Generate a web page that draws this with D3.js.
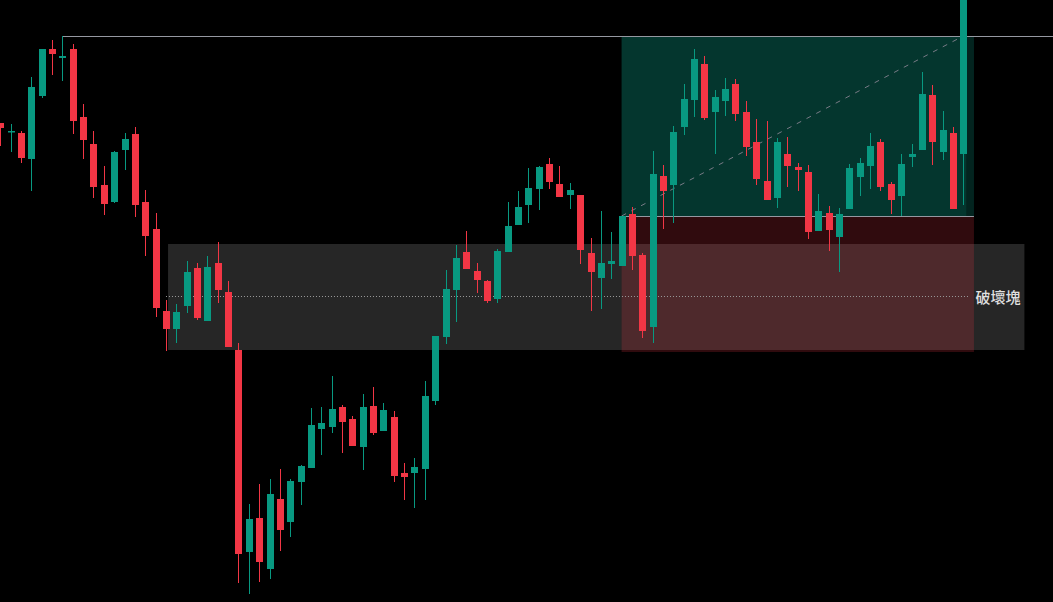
<!DOCTYPE html>
<html>
<head>
<meta charset="utf-8">
<script src="https://cdn.jsdelivr.net/npm/d3@7/dist/d3.min.js"></script>
<style>
  html, body { margin: 0; padding: 0; background: #000; overflow: hidden; }
  svg { display: block; }
</style>
</head>
<body>
<svg id="chart" width="1053" height="602"></svg>
<script>
// ---- data ----
const openP = [2477,2468,2467,2441,2504,2551,2542,2551,2483,2456,
  2415,2398,2450,2466,2398,2371,2289,2271,2294,2332,
  2279,2337,2308,2250,2048,2082,2031,2101,2078,2118,
  2132,2171,2173,2193,2181,2153,2194,2169,2183,2127,
  2127,2131,2199,2263,2310,2348,2329,2319,2301,2348,
  2375,2395,2411,2436,2416,2405,2405,2347,2322,2336,
  2334,2386,2345,2273,2424,2415,2473,2500,2536,2488,
  2499,2516,2488,2458,2419,2402,2446,2433,2428,2369,
  2387,2363,2391,2423,2434,2458,2416,2404,2443,2450,
  2505,2448,2467,2446];
const highP = [2477,2476,2469,2523,2551,2560,2564,2556,2496,2469,
  2434,2449,2467,2473,2410,2387,2300,2296,2339,2337,
  2344,2358,2319,2257,2096,2116,2121,2131,2121,2135,
  2192,2193,2224,2195,2184,2206,2213,2197,2189,2137,
  2142,2219,2264,2330,2355,2369,2337,2320,2351,2398,
  2409,2432,2434,2442,2434,2417,2405,2362,2389,2368,
  2384,2393,2347,2449,2435,2474,2516,2551,2544,2510,
  2522,2521,2499,2481,2479,2462,2463,2437,2435,2406,
  2394,2392,2436,2442,2467,2461,2418,2446,2456,2528,
  2515,2489,2473,2620];
const lowP = [2454,2448,2437,2409,2502,2525,2519,2466,2441,2402,
  2385,2397,2430,2383,2344,2283,2249,2257,2287,2280,
  2279,2297,2253,2017,2006,2018,2021,2049,2063,2095,
  2132,2145,2167,2147,2154,2130,2165,2169,2118,2100,
  2092,2100,2195,2256,2278,2331,2307,2297,2297,2348,
  2375,2377,2390,2411,2403,2391,2336,2289,2291,2321,
  2334,2330,2262,2257,2371,2377,2465,2483,2480,2446,
  2484,2479,2444,2415,2400,2392,2413,2409,2361,2369,
  2349,2328,2391,2404,2411,2409,2386,2384,2433,2450,
  2435,2440,2391,2395];
const closeP = [2472,2469,2442,2513,2551,2546,2544,2479,2460,2413,
  2396,2448,2461,2395,2364,2292,2271,2288,2328,2282,
  2333,2310,2253,2046,2081,2038,2106,2070,2119,2134,
  2175,2177,2191,2178,2154,2193,2167,2190,2124,2123,
  2133,2204,2264,2311,2342,2331,2320,2299,2349,2374,
  2393,2412,2433,2418,2403,2410,2350,2328,2337,2339,
  2384,2344,2269,2426,2409,2468,2501,2541,2482,2503,
  2511,2486,2453,2421,2400,2458,2434,2430,2368,2389,
  2370,2386,2432,2437,2454,2413,2400,2436,2446,2506,
  2458,2470,2391,2615];

// breaker block zone (price) and its bar span (index)
const blockTop = 2356, blockBottom = 2250, blockMid = 2304;
const blockStart = 16.2, blockEnd = 98.9, blockMidEnd = 93.5;
const blockLabel = "破壞塊";

// long position tool
const entryIndex = 60, posEnd = 94.03, lastIndex = 93;
const targetPrice = 2564, entryPrice = 2384, stopPrice = 2248;
const highLineIndex = 6;

// ---- scales ----
const W = 1053, H = 602;
const x = d3.scaleLinear().domain([0, 93]).range([0.3, 963.3]);
const y = d3.scaleLinear().domain([1998, 2600]).range([H, 0]);

const svg = d3.select("#chart");
svg.append("rect").attr("width", W).attr("height", H).attr("fill", "#000");

const up = "#089981", down = "#f23645";

// gray breaker block
svg.append("rect")
  .attr("x", x(blockStart)).attr("width", x(blockEnd) - x(blockStart))
  .attr("y", y(blockTop)).attr("height", y(blockBottom) - y(blockTop))
  .attr("fill", "#262626");

// position tool: profit zone
svg.append("rect")
  .attr("x", x(entryIndex)).attr("width", x(posEnd) - x(entryIndex))
  .attr("y", y(targetPrice)).attr("height", y(entryPrice) - y(targetPrice))
  .attr("fill", "#04362e");
svg.append("rect")
  .attr("x", x(lastIndex) + 3).attr("width", x(posEnd) - x(lastIndex) - 3)
  .attr("y", y(targetPrice)).attr("height", y(entryPrice) - y(targetPrice))
  .attr("fill", "#03241f");
// loss zone (semi transparent over the block)
svg.append("rect")
  .attr("x", x(entryIndex)).attr("width", x(posEnd) - x(entryIndex))
  .attr("y", y(entryPrice)).attr("height", y(stopPrice) - y(entryPrice))
  .attr("fill", "rgba(242,54,69,0.2)");

// dotted mid line of block
svg.append("line")
  .attr("x1", x(blockStart - 0.2)).attr("x2", x(blockMidEnd))
  .attr("y1", Math.round(y(blockMid)) + 0.5).attr("y2", Math.round(y(blockMid)) + 0.5)
  .attr("stroke", "#9a9a9a").attr("stroke-width", 1).attr("stroke-dasharray", "1,2");

// horizontal high line
svg.append("line")
  .attr("x1", Math.round(x(highLineIndex))).attr("x2", W)
  .attr("y1", Math.round(y(targetPrice)) + 0.5).attr("y2", Math.round(y(targetPrice)) + 0.5)
  .attr("stroke", "#9598a1").attr("stroke-width", 1);
// entry line
svg.append("line")
  .attr("x1", x(entryIndex)).attr("x2", x(posEnd))
  .attr("y1", Math.round(y(entryPrice)) + 0.5).attr("y2", Math.round(y(entryPrice)) + 0.5)
  .attr("stroke", "#9598a1").attr("stroke-width", 1);
// dashed diagonal
svg.append("line")
  .attr("x1", x(entryIndex)).attr("y1", y(entryPrice))
  .attr("x2", x(lastIndex)).attr("y2", y(targetPrice))
  .attr("stroke", "#787b86").attr("stroke-width", 1).attr("stroke-dasharray", "5,6");

// candles
const data = openP.map((o, i) => ({i, o, h: highP[i], l: lowP[i], c: closeP[i]}));
const g = svg.append("g");
data.forEach(d => {
  const cx = Math.round(x(d.i));
  const col = d.c >= d.o ? up : down;
  g.append("line")
    .attr("x1", cx + 0.5).attr("x2", cx + 0.5)
    .attr("y1", y(d.h)).attr("y2", y(d.l))
    .attr("stroke", col).attr("stroke-width", 1);
  const top = y(Math.max(d.o, d.c)), bot = y(Math.min(d.o, d.c));
  g.append("rect")
    .attr("x", cx - 3).attr("width", 7)
    .attr("y", top).attr("height", Math.max(1.5, bot - top))
    .attr("fill", col);
});

// label
svg.append("text")
  .attr("x", x(blockMidEnd) + 7).attr("y", y(blockMid))
  .attr("dominant-baseline", "central")
  .attr("font-family", "'Noto Sans CJK TC', 'Noto Sans CJK SC', sans-serif")
  .attr("font-size", 15).attr("font-weight", 500)
  .attr("fill", "#e0e0e0")
  .text(blockLabel);
</script>
</body>
</html>
